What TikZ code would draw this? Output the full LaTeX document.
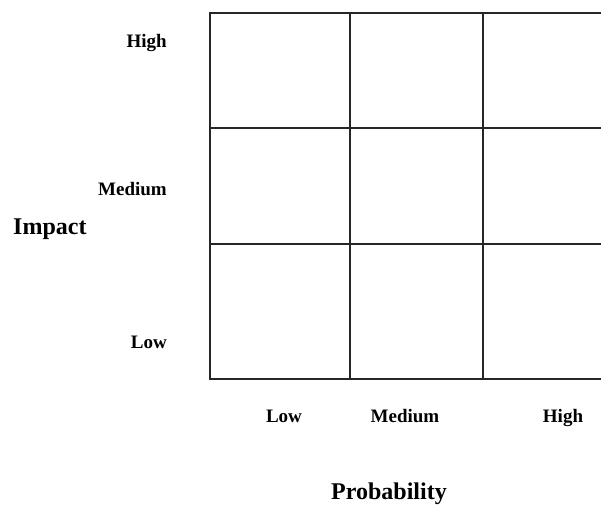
\documentclass[tikz,border=0pt]{standalone}
\usepackage{fontspec}
\setmainfont{Liberation Serif}
\usetikzlibrary{positioning}

\begin{document}
\begin{tikzpicture}[
  x=1pt, y=-1pt,
  gridline/.style={line width=1.6pt, draw=black!85},
  ticklab/.style={font=\fontsize{19}{22}\selectfont\bfseries, inner sep=0pt},
  axislab/.style={font=\fontsize{24}{28}\selectfont\bfseries, inner sep=0pt}
]
\useasboundingbox (0,0) rectangle (601,504);

% matrix grid
\draw[gridline] (620,13) -- (210,13) -- (210,379) -- (620,379);
\foreach \gx in {350,483} \draw[gridline] (\gx,13) -- (\gx,379);
\foreach \gy in {128,244} \draw[gridline] (210,\gy) -- (620,\gy);

% impact axis
\node[ticklab, anchor=base east] (yhigh) at (167,47) {High};
\node[ticklab, anchor=base east] (ymed) at (167,195) {Medium};
\node[ticklab, anchor=base east] (ylow) at (167,348) {Low};
\node[axislab, anchor=base west] (impact) at (13,234) {Impact};

% probability axis
\node[ticklab, anchor=base] (xlow) at (284,422) {Low};
\node[ticklab, anchor=base] (xmed) at (405,422) {Medium};
\node[ticklab, anchor=base] (xhigh) at (563,422) {High};
\node[axislab, anchor=base] (prob) at (389,499) {Probability};
\end{tikzpicture}
\end{document}
